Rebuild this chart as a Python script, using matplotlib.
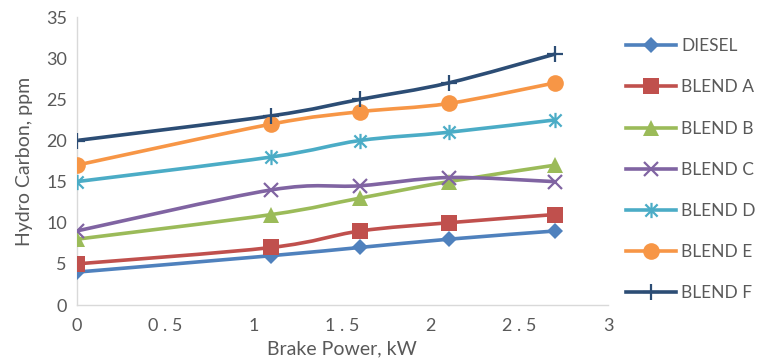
import numpy as np
import matplotlib.pyplot as plt
from matplotlib.path import Path
from matplotlib.patches import PathPatch
from matplotlib.lines import Line2D

plt.rcParams['font.family'] = ['Lato', 'DejaVu Sans']

power = [0, 1.1, 1.6, 2.1, 2.7]
diesel = [4, 6, 7, 8, 9]
blend_a = [5, 7, 9, 10, 11]
blend_b = [8, 11, 13, 15, 17]
blend_c = [9, 14, 14.5, 15.5, 15]
blend_d = [15, 18, 20, 21, 22.5]
blend_e = [17, 22, 23.5, 24.5, 27]
blend_f = [20, 23, 25, 27, 30.5]
names = ['DIESEL', 'BLEND A', 'BLEND B', 'BLEND C', 'BLEND D', 'BLEND E', 'BLEND F']
xticks = [0, 0.5, 1, 1.5, 2, 2.5, 3]
xtick_labels = ['0', '0 . 5', '1', '1 . 5', '2', '2 . 5', '3']

# asterisk marker like Excel's: an x with a vertical bar
star = Path([(-1, -1), (1, 1), (-1, 1), (1, -1), (0, -1.25), (0, 1.25)],
            [Path.MOVETO, Path.LINETO, Path.MOVETO, Path.LINETO, Path.MOVETO, Path.LINETO])

colors = ['#4F81BD', '#C0504D', '#9BBB59', '#8064A2', '#4BACC6', '#F79646', '#2C4D75']
markers = ['D', 's', '^', 'x', star, 'o', '+']
msizes = [8, 11, 12, 10, 11, 12, 12]
edge_w = [0, 0, 0, 1.6, 1.6, 0, 1.6]


def smooth_path(x, y):
    # Excel-style smoothed line as cubic Bezier segments
    p = np.column_stack([x, y]).astype(float)
    verts = [p[0]]
    codes = [Path.MOVETO]
    n = len(p)
    for i in range(n - 1):
        p0 = p[max(i - 1, 0)]
        p1, p2 = p[i], p[i + 1]
        p3 = p[min(i + 2, n - 1)]
        verts += [p1 + (p2 - p0) / 6, p2 - (p3 - p1) / 6, p2]
        codes += [Path.CURVE4] * 3
    return Path(verts, codes)


fig = plt.figure(figsize=(7.59, 3.64), dpi=100)
ax = fig.add_axes([0.101, 0.162, 0.70, 0.791])

series = [diesel, blend_a, blend_b, blend_c, blend_d, blend_e, blend_f]
handles = []
for vals, name, c, m, ms, mew in zip(series, names, colors, markers, msizes, edge_w):
    ax.add_patch(PathPatch(smooth_path(power, vals), facecolor='none',
                           edgecolor=c, lw=2.6, capstyle='round', zorder=2))
    ax.plot(power, vals, linestyle='none', marker=m, markersize=ms,
            color=c, markeredgecolor=c, markeredgewidth=mew, zorder=3)
    handles.append(Line2D([], [], color=c, lw=2.6, marker=m, markersize=ms,
                          markeredgewidth=mew, label=name))

ax.set_xlim(0, 3)
ax.set_ylim(0, 35)
ax.set_xticks(xticks)
ax.set_xticklabels(xtick_labels)
ax.set_yticks(range(0, 36, 5))
for s in ['top', 'right']:
    ax.spines[s].set_visible(False)
for s in ['left', 'bottom']:
    ax.spines[s].set_color('#D9D9D9')
    ax.spines[s].set_linewidth(1)
ax.tick_params(axis='x', length=0, labelsize=13, colors='#595959', pad=9)
ax.tick_params(axis='y', length=0, labelsize=13, colors='#595959', pad=7)
ax.set_xlabel('Brake Power, kW', fontsize=14, color='#595959', labelpad=5)
ax.set_ylabel('Hydro Carbon, ppm', fontsize=14, color='#595959', labelpad=9)

leg = fig.legend(handles=handles, loc='upper left', bbox_to_anchor=(0.815, 0.914),
                 frameon=False, fontsize=12.5, labelspacing=1.45, handlelength=2.9,
                 handletextpad=0.3, labelcolor='#595959', borderaxespad=0)

fig.savefig('out.png', dpi=100)
